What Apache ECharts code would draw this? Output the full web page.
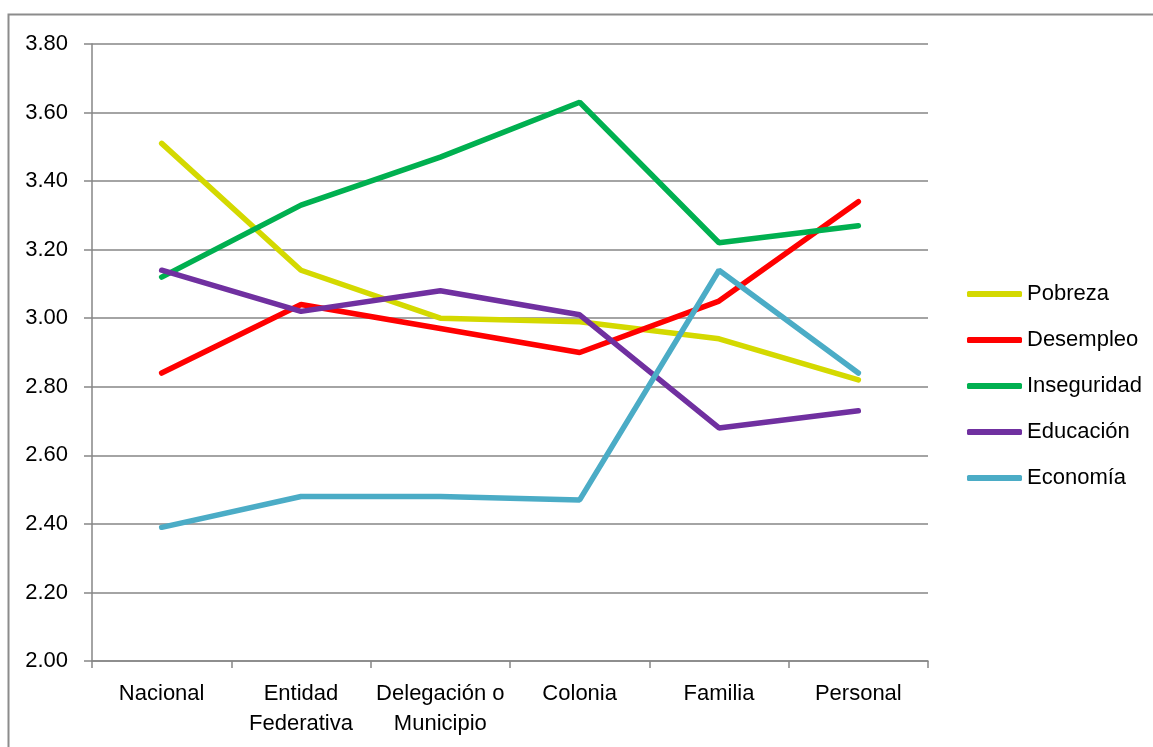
<!DOCTYPE html>
<html>
<head>
<meta charset="utf-8">
<script src="https://cdn.jsdelivr.net/npm/echarts@6/dist/echarts.min.js"></script>
<style>
  html, body { margin: 0; padding: 0; background: #fff; }
  #chart { width: 1153px; height: 747px; }
</style>
</head>
<body>
<div id="chart"></div>
<script>
const categories = ["Nacional", "Entidad\nFederativa", "Delegación o\nMunicipio", "Colonia", "Familia", "Personal"];
const pobreza = [3.51, 3.14, 3.00, 2.99, 2.94, 2.82];
const desempleo = [2.84, 3.04, 2.97, 2.90, 3.05, 3.34];
const inseguridad = [3.12, 3.33, 3.47, 3.63, 3.22, 3.27];
const educacion = [3.14, 3.02, 3.08, 3.01, 2.68, 2.73];
const economia = [2.39, 2.48, 2.48, 2.47, 3.14, 2.84];

const font = "'Liberation Sans', Arial, sans-serif";

function line(name, data, color) {
  return {
    name: name,
    type: "line",
    data: data,
    symbol: "none",
    color: color,
    lineStyle: { color: color, width: 5.5, cap: "round" }
  };
}

const chart = echarts.init(document.getElementById("chart"));
chart.setOption({
  animation: false,
  backgroundColor: "#fff",
  textStyle: { fontFamily: font },
  graphic: [{
    type: "rect",
    shape: { x: 8.5, y: 14.5, width: 1200, height: 800 },
    style: { fill: null, stroke: "#8c8c8c", lineWidth: 2 },
    silent: true
  }],
  grid: { left: 92, top: 44, right: 225, bottom: 86 },
  legend: {
    orient: "vertical",
    left: 962,
    top: 277,
    icon: "roundRect",
    itemWidth: 55,
    itemHeight: 6,
    itemGap: 22,
    textStyle: { fontFamily: font, fontSize: 22, color: "#000", lineHeight: 24 },
    data: ["Pobreza", "Desempleo", "Inseguridad", "Educación", "Economía"]
  },
  xAxis: {
    type: "category",
    data: categories,
    boundaryGap: true,
    axisLine: { lineStyle: { color: "#868686", width: 1.5 } },
    axisTick: { show: true, length: 7, interval: 0, lineStyle: { color: "#868686", width: 1.5 } },
    axisLabel: { interval: 0, fontFamily: font, fontSize: 22, color: "#000", margin: 18, lineHeight: 30 }
  },
  yAxis: {
    type: "value",
    min: 2.0,
    max: 3.8,
    interval: 0.2,
    axisLine: { show: true, lineStyle: { color: "#868686", width: 1.5 } },
    axisTick: { show: true, length: 8, lineStyle: { color: "#868686", width: 1.5 } },
    splitLine: { show: true, lineStyle: { color: "#868686", width: 1.5 } },
    axisLabel: {
      fontFamily: font, fontSize: 22, color: "#000", margin: 24,
      formatter: function (v) { return v.toFixed(2); }
    }
  },
  series: [
    line("Pobreza", pobreza, "#d4d900"),
    line("Desempleo", desempleo, "#ff0000"),
    line("Inseguridad", inseguridad, "#00b050"),
    line("Educación", educacion, "#7030a0"),
    line("Economía", economia, "#4bacc6")
  ]
});
</script>
</body>
</html>
